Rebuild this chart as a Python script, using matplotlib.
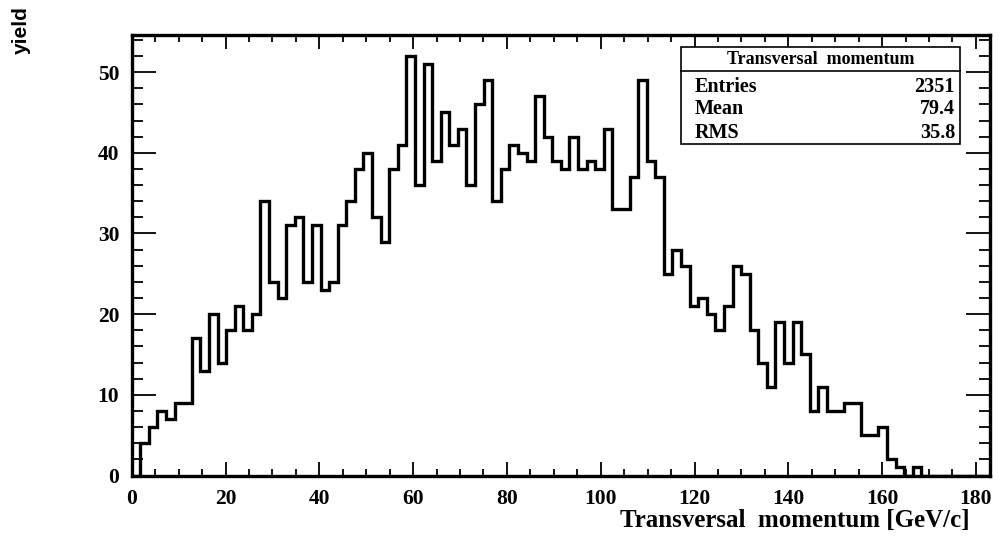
import matplotlib
matplotlib.use("Agg")
import matplotlib.pyplot as plt
import numpy as np
from matplotlib.ticker import MultipleLocator
from matplotlib.patches import Rectangle
from matplotlib.lines import Line2D

# ---- data (100 bins from 0 to 183) ----
counts = [0, 4, 6, 8, 7, 9, 9, 17, 13, 20,
          14, 18, 21, 18, 20, 34, 24, 22, 31, 32,
          24, 31, 23, 24, 31, 34, 38, 40, 32, 29,
          38, 41, 52, 36, 51, 39, 45, 41, 43, 36,
          46, 49, 34, 38, 41, 40, 39, 47, 42, 39,
          38, 42, 38, 39, 38, 43, 33, 33, 37, 49,
          39, 37, 25, 28, 26, 21, 22, 20, 18, 21,
          26, 25, 18, 14, 11, 19, 14, 19, 15, 8,
          11, 8, 8, 9, 9, 5, 5, 6, 2, 1,
          0, 1, 0, 0, 0, 0, 0, 0, 0, 0]
x_min, x_max = 0.0, 183.0
x_ticks = [0, 20, 40, 60, 80, 100, 120, 140, 160, 180]
y_ticks = [0, 10, 20, 30, 40, 50]

stats_title = "Transversal  momentum"
stats_labels = ["Entries", "Mean", "RMS"]
stats_values = ["2351", "79.4", "35.8"]
x_title = "Transversal  momentum [GeV/c]"
y_title = "yield"

edges = np.linspace(x_min, x_max, len(counts) + 1)

W, H = 1004, 549
fig = plt.figure(figsize=(W / 100, H / 100), dpi=100)
fig.patch.set_facecolor("white")

def fx(px):
    return px / W

def fy(py):
    return 1 - py / H

ax_l, ax_r, ax_t, ax_b = 131.7, 990.0, 35.0, 475.5
ax = fig.add_axes([fx(ax_l), fy(ax_b), fx(ax_r - ax_l), (ax_b - ax_t) / H])

ax.stairs(counts, edges, color="black", linewidth=2.4, baseline=0)
ax.set_xlim(x_min, x_max)
ax.set_ylim(0, 1.05 * max(counts))

for s in ax.spines.values():
    s.set_linewidth(2.4)

ax.set_xticks(x_ticks)
ax.set_yticks(y_ticks)
ax.xaxis.set_minor_locator(MultipleLocator(5))
ax.yaxis.set_minor_locator(MultipleLocator(2))
ax.tick_params(which="both", direction="in", top=True, right=True,
               width=1.3, color="black")
ax.tick_params(axis="y", which="major", length=17, pad=9)
ax.tick_params(axis="y", which="minor", length=8)
ax.tick_params(axis="x", which="major", length=10, pad=10)
ax.tick_params(axis="x", which="minor", length=5)

tick_font = dict(family="Liberation Serif", weight="bold", size=15.5)
ax.set_xticklabels([str(t) for t in x_ticks], fontdict=tick_font)
ax.set_yticklabels([str(t) for t in y_ticks], fontdict=tick_font)

# axis titles
fig.text(fx(970), fy(520), x_title, ha="right", va="center",
         family="Liberation Serif", weight="bold", size=18)
fig.text(fx(21), fy(6), y_title, ha="center", va="top", rotation=90,
         family="Liberation Sans", weight="bold", size=15)

# stats box
bx_l, bx_r, bx_t, bx_b, bx_sep = 680.7, 960.0, 47.3, 144.0, 71.0
fig.patches.append(Rectangle((fx(bx_l), fy(bx_b)), fx(bx_r - bx_l), (bx_b - bx_t) / H,
                             transform=fig.transFigure, facecolor="white",
                             edgecolor="black", linewidth=1.2, zorder=5))
fig.lines.append(Line2D([fx(bx_l), fx(bx_r)], [fy(bx_sep), fy(bx_sep)],
                        transform=fig.transFigure, color="black", linewidth=1.2, zorder=6))
fig.text(fx((bx_l + bx_r) / 2), fy(59), stats_title, ha="center", va="center",
         family="Liberation Serif", weight="bold", size=13, zorder=7)
row_y = [86.7, 108.5, 133.0]
for lab, val, yy in zip(stats_labels, stats_values, row_y):
    fig.text(fx(695), fy(yy), lab, ha="left", va="center",
             family="Liberation Serif", weight="bold", size=14.5, zorder=7)
    fig.text(fx(955), fy(yy), val, ha="right", va="center",
             family="Liberation Serif", weight="bold", size=14.5, zorder=7)

fig.savefig("out.png", dpi=100)
